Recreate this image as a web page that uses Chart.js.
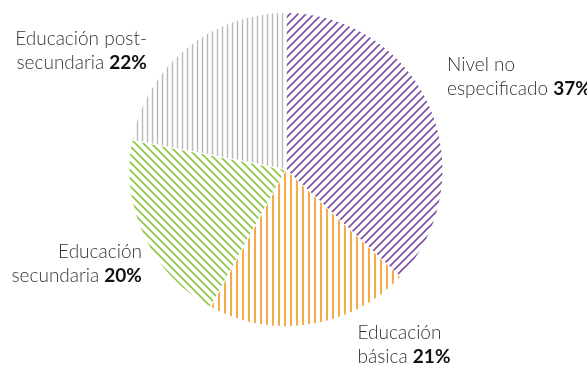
<!DOCTYPE html>
<html>
<head>
<meta charset="utf-8">
<script src="https://cdn.jsdelivr.net/npm/chart.js@4"></script>
<style>
  html, body { margin: 0; padding: 0; background: #fff; }
  #wrap { width: 587px; height: 367px; }
</style>
</head>
<body>
<div id="wrap"><canvas id="myChart" width="587" height="367"></canvas></div>
<script>
'use strict';

//========== Data ==========
let categories = ['Nivel no especificado', 'Educación básica', 'Educación secundaria', 'Educación post-secundaria'];
let values = [37, 21, 20, 22];
let labelLines = [
  ['Nivel no', 'especificado'],
  ['Educación', 'básica'],
  ['Educación', 'secundaria'],
  ['Educación post-', 'secundaria']
];

//========== Hatch patterns ==========
function makePattern(color, type, size, lw) {
  let c = document.createElement('canvas');
  c.width = size;
  c.height = size;
  let g = c.getContext('2d');
  g.strokeStyle = color;
  g.lineWidth = lw;
  g.beginPath();
  if (type === 'vertical') {
    g.moveTo(size / 2, 0);
    g.lineTo(size / 2, size);
  } else if (type === 'up') {
    g.moveTo(-size, size * 2); g.lineTo(size * 2, -size);
    g.moveTo(-size, size); g.lineTo(size, -size);
    g.moveTo(0, size * 2); g.lineTo(size * 2, 0);
  } else {
    g.moveTo(-size, -size); g.lineTo(size * 2, size * 2);
    g.moveTo(-size, 0); g.lineTo(size, size * 2);
    g.moveTo(0, -size); g.lineTo(size * 2, size);
  }
  g.stroke();
  return g.createPattern(c, 'repeat');
}

let fills = [
  makePattern('#7d4fa3', 'up', 8, 1.6),
  makePattern('#f7941d', 'vertical', 6, 1.6),
  makePattern('#8cc63f', 'down', 8, 1.6),
  makePattern('#b8b8b8', 'vertical', 5, 1.4)
];

//========== Label plugin ==========
// offsets from the outer mid point of each slice
let labelPlugin = {
  id: 'sliceLabels',
  afterDraw(chart, args, opts) {
    let ctx = chart.ctx;
    let arcs = chart.getDatasetMeta(0).data;
    let normal = '300 19px Lato';
    let bold = '700 19px Lato';
    ctx.save();
    ctx.textBaseline = 'alphabetic';
    arcs.forEach((arc, i) => {
      let p = arc.getProps(['x', 'y', 'startAngle', 'endAngle', 'outerRadius'], true);
      let mid = (p.startAngle + p.endAngle) / 2;
      let ax = p.x + Math.cos(mid) * p.outerRadius;
      let ay = p.y + Math.sin(mid) * p.outerRadius;
      let o = opts.offsets[i];
      let x = ax + o.dx;
      let y = ay + o.dy;
      let lines = labelLines[i];
      let pct = values[i] + '%';

      ctx.font = normal;
      let w1 = ctx.measureText(lines[0]).width;
      let w2a = ctx.measureText(lines[1] + ' ').width;
      ctx.font = bold;
      let w2b = ctx.measureText(pct).width;
      let w2 = w2a + w2b;

      let x1 = o.align === 'right' ? x - w1 : x;
      let x2 = o.align === 'right' ? x - w2 : x;

      ctx.font = normal;
      ctx.fillStyle = '#333';
      ctx.fillText(lines[0], x1, y);
      ctx.fillText(lines[1] + ' ', x2, y + opts.lineGap);
      ctx.font = bold;
      ctx.fillStyle = '#111';
      ctx.fillText(pct, x2 + w2a, y + opts.lineGap);
    });
    ctx.restore();
  }
};

//========== Chart ==========
let ctx = document.getElementById('myChart').getContext('2d');

let myChart = new Chart(ctx, {
  type: 'pie',
  data: {
    labels: categories,
    datasets: [{
      data: values,
      backgroundColor: fills,
      borderColor: '#ffffff',
      borderWidth: 1
    }]
  },
  options: {
    responsive: false,
    animation: false,
    layout: {
      padding: { top: 12, bottom: 40, left: 0, right: 15 }
    },
    plugins: {
      legend: { display: false },
      tooltip: { enabled: false },
      sliceLabels: {
        lineGap: 24,
        offsets: [
          { dx: 17, dy: -36, align: 'left' },
          { dx: 47, dy: 14, align: 'left' },
          { dx: -2, dy: 22, align: 'right' },
          { dx: -39, dy: -4, align: 'right' }
        ]
      }
    }
  },
  plugins: [labelPlugin]
});
</script>
</body>
</html>
